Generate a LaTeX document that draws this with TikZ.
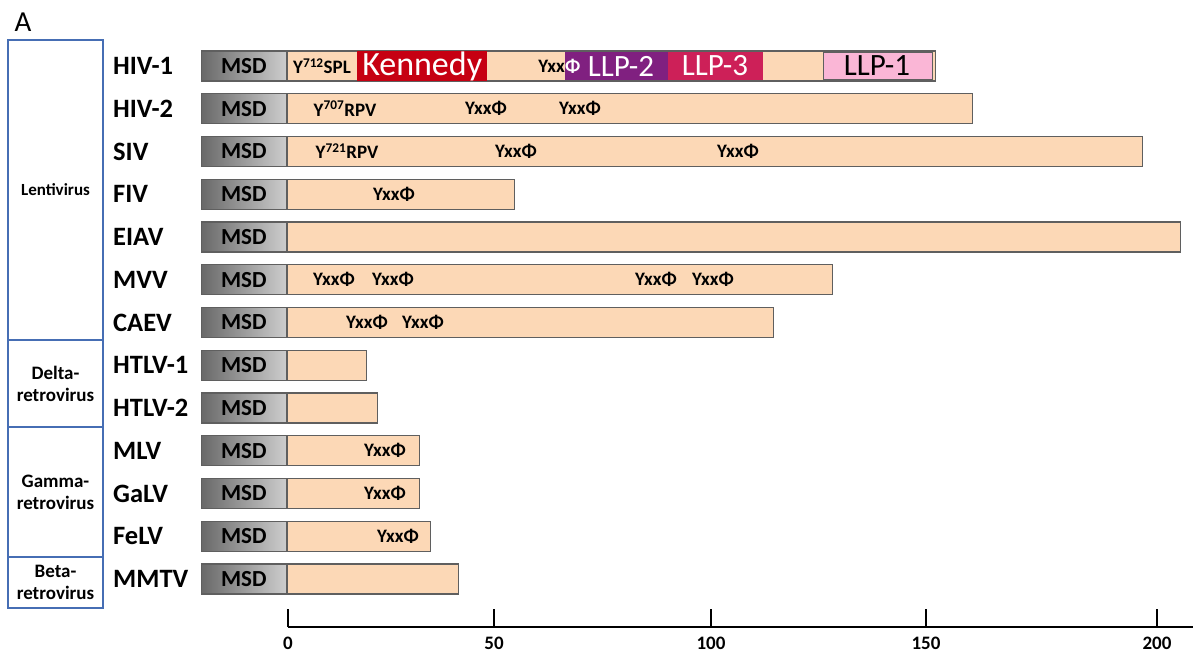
\documentclass[tikz,border=0pt]{standalone}
\usepackage{fontspec}
\setmainfont{Carlito}
\definecolor{peach}{RGB}{252,216,182}
\definecolor{barline}{RGB}{95,95,95}
\definecolor{groupblue}{RGB}{70,110,180}
\definecolor{kennedy}{RGB}{198,0,18}
\definecolor{llptwo}{RGB}{128,32,128}
\definecolor{llpthree}{RGB}{205,32,88}
\definecolor{llpone}{RGB}{250,182,214}
\definecolor{msddark}{RGB}{105,105,105}
\definecolor{msdlight}{RGB}{205,205,205}
\begin{document}
\begin{tikzpicture}[x=1pt,y=-1pt,
  bar/.style={draw=barline, fill=peach, line width=1.3pt, minimum height=30pt, inner sep=0pt, anchor=west},
  msd/.style={draw=barline, line width=1.3pt, left color=msddark, right color=msdlight, minimum width=85pt, minimum height=30pt, inner sep=0pt, anchor=east, font=\bfseries\fontsize{23}{23}\selectfont},
  seg/.style={minimum height=28pt, inner sep=0pt, anchor=west},
  motif/.style={font=\bfseries\fontsize{19}{19}\selectfont, inner sep=0pt},
  vname/.style={font=\bfseries\fontsize{26.5}{26.5}\selectfont, anchor=west, inner sep=0pt},
  group/.style={draw=groupblue, line width=1.2pt, inner sep=0pt},
  glabel/.style={font=\bfseries\fontsize{19}{22}\selectfont, align=center, inner sep=0pt},
  tick/.style={line width=1.6pt},
  ticklabel/.style={font=\bfseries\fontsize{19}{19}\selectfont, inner sep=0pt}]
\useasboundingbox (0,0) rectangle (1197,655);

% panel letter
\node[font=\fontsize{29}{29}\selectfont, inner sep=0pt] (panel) at (23,22) {A};

% group boxes
\node[group, minimum width=95pt, minimum height=300pt] (glenti) at (55.5,190) {};
\node[group, minimum width=95pt, minimum height=87pt] (gdelta) at (55.5,383.5) {};
\node[group, minimum width=95pt, minimum height=130pt] (ggamma) at (55.5,492) {};
\node[group, minimum width=95pt, minimum height=51pt] (gbeta) at (55.5,582.5) {};
\node[glabel, font=\bfseries\fontsize{17}{20}\selectfont] (llenti) at (glenti) {Lentivirus};
\node[glabel] (ldelta) at (gdelta) {Delta-\\retrovirus};
\node[glabel] (lgamma) at (ggamma) {Gamma-\\retrovirus};
\node[glabel] (lbeta) at (gbeta) {Beta-\\retrovirus};

% rows
\foreach \i/\nm/\id/\r in {0/HIV-1/r0/935, 1/HIV-2/r1/972, 2/SIV/r2/1142, 3/FIV/r3/514,
  4/EIAV/r4/1180, 5/MVV/r5/832, 6/CAEV/r6/773, 7/HTLV-1/r7/366, 8/HTLV-2/r8/377,
  9/MLV/r9/419, 10/GaLV/r10/419, 11/FeLV/r11/430, 12/MMTV/r12/458}{
  \pgfmathsetmacro\yy{66+42.75*\i}
  \pgfmathsetmacro\ww{\r-287}
  \node[vname] (n\id) at (113,\yy) {\nm};
  \node[bar, minimum width=\ww pt] (b\id) at (287,\yy) {};
  \node[msd] (m\id) at (287,\yy) {MSD};
}

% HIV-1 segments
\node[seg, fill=kennedy, minimum width=130pt, text=white, font=\fontsize{34}{34}\selectfont] (ken) at (357,66) {Kennedy};
\node[seg, fill=llptwo, minimum width=103pt] (llp2) at (565,66) {};
\node[seg, fill=llpthree, minimum width=95pt] (llp3) at (668,66) {};
\node[seg, fill=llpone, draw=barline, line width=1pt, minimum width=109pt, minimum height=27pt] (llp1) at (823,66) {};
\node[text=white, font=\fontsize{31}{31}\selectfont, inner sep=0pt] (t2) at (621,66) {LLP-2};
\node[text=white, font=\fontsize{31}{31}\selectfont, inner sep=0pt] (t3) at (715,66) {LLP-3};
\node[text=black, font=\fontsize{31}{31}\selectfont, inner sep=0pt] (t1) at (877,66) {LLP-1};
\node[motif] (h1a) at (322,66) {Y\textsuperscript{712}SPL};
\node[motif, anchor=east] (h1b) at (565,66) {Yxx};
\node[motif, anchor=west, text=white] (h1c) at (565,66) {Φ};

% motifs
\node[motif] (h2a) at (345,108.75) {Y\textsuperscript{707}RPV};
\node[motif] (h2b) at (486,108.75) {YxxΦ};
\node[motif] (h2c) at (580,108.75) {YxxΦ};
\node[motif] (s1) at (347,151.5) {Y\textsuperscript{721}RPV};
\node[motif] (s2) at (516,151.5) {YxxΦ};
\node[motif] (s3) at (738,151.5) {YxxΦ};
\node[motif] (f1) at (394,194.25) {YxxΦ};
\node[motif] (mv1) at (334,279.75) {YxxΦ};
\node[motif] (mv2) at (393,279.75) {YxxΦ};
\node[motif] (mv3) at (656,279.75) {YxxΦ};
\node[motif] (mv4) at (713,279.75) {YxxΦ};
\node[motif] (c1) at (367,322.5) {YxxΦ};
\node[motif] (c2) at (423,322.5) {YxxΦ};
\node[motif] (ml1) at (385,450.75) {YxxΦ};
\node[motif] (ga1) at (385,493.5) {YxxΦ};
\node[motif] (fe1) at (398,536.25) {YxxΦ};

% axis
\coordinate (a0) at (288,627);
\coordinate (aend) at (1193,627);
\draw[tick] (a0) -- (aend);
\foreach \x/\lab/\id in {288/0/k0, 494/50/k1, 711/100/k2, 926/150/k3, 1157/200/k4}{
  \coordinate (\id) at (\x,627);
  \coordinate (\id t) at (\x,609);
  \draw[tick] (\id) -- (\id t);
  \node[ticklabel] (\id l) at (\x,643) {\lab};
}
\end{tikzpicture}
\end{document}
